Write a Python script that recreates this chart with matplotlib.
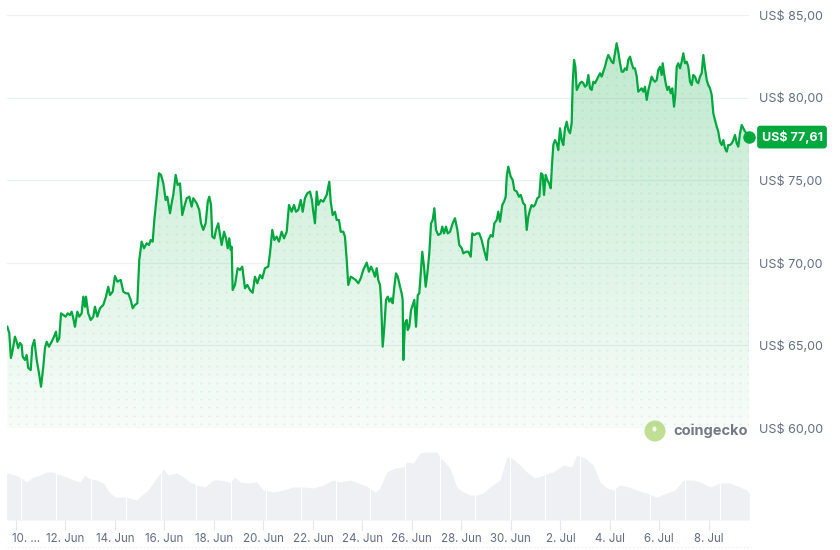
import datetime as dt
import numpy as np
import matplotlib
matplotlib.use("Agg")
import matplotlib.pyplot as plt
import matplotlib.transforms as mtransforms
from matplotlib.patches import Ellipse

plt.rcParams['font.family'] = ['Inter', 'DejaVu Sans']

# hours after 10 Jun 00:00 and price in US$
hours = [-8.4, -6.5, -4.9, -3.2, -1.0, 0.7, 2.2, 3.9, 5.5, 6.5, 8.7, 10.4, 11.9, 14.3, 15.8, 17.8, 20.1, 22.3,
         24.3, 26.5, 28.1, 29.8, 32.0, 34.6, 36.9, 38.8, 40.1, 42.0, 43.7, 45.9, 48.2, 50.1, 52.4, 54.0, 55.6,
         57.2, 59.5, 61.4, 63.7, 65.3, 66.9, 67.9, 70.1, 72.5, 75.0, 76.6, 78.9, 81.5, 84.7, 87.3, 89.5, 91.2,
         93.8, 96.0, 98.3, 101.6, 104.1, 106.7, 108.9, 111.3, 113.2, 115.4, 117.7, 119.6, 121.9, 124.2, 126.8,
         129.0, 130.7, 132.6, 134.2, 136.5, 138.7, 140.7, 142.9, 145.2, 146.8, 149.4, 151.0, 152.6, 154.9,
         156.8, 159.1, 161.3, 163.3, 165.6, 168.1, 170.4, 172.0, 175.3, 177.8, 179.5, 181.7, 184.0, 186.0,
         187.5, 189.2, 190.4, 192.4, 194.0, 196.2, 197.9, 199.5, 201.8, 203.7, 205.4, 206.9, 208.3, 209.2,
         210.2, 212.4, 215.0, 217.3, 219.5, 222.1, 224.4, 227.0, 229.6, 231.8, 234.1, 236.7, 238.9, 241.5,
         244.7, 246.4, 248.6, 250.6, 252.9, 255.1, 257.7, 260.0, 262.6, 264.8, 267.4, 269.7, 271.6, 273.8,
         276.2, 278.1, 280.3, 282.6, 285.2, 287.1, 288.4, 290.0, 291.7, 293.2, 295.6, 298.1, 299.7, 301.4,
         303.9, 305.3, 307.2, 309.4, 311.1, 313.3, 315.0, 317.5, 319.1, 320.8, 322.3, 324.7, 327.2, 329.5,
         332.0, 334.4, 336.9, 340.2, 342.4, 344.4, 346.6, 348.2, 349.9, 351.4, 353.1, 354.1, 355.7, 357.3,
         358.9, 360.6, 362.1, 363.8, 365.4, 367.0, 368.6, 370.3, 372.5, 374.1, 375.1, 375.7, 377.3, 379.0,
         380.0, 381.5, 383.2, 384.8, 386.4, 388.0, 389.7, 391.2, 392.6, 394.1, 395.8, 397.4, 399.0, 400.9,
         402.6, 404.2, 405.8, 407.4, 409.6, 412.0, 413.5, 415.2, 417.1, 418.8, 421.0, 423.6, 425.8, 428.1,
         430.0, 432.4, 433.9, 436.5, 438.8, 441.1, 442.6, 444.6, 446.9, 449.4, 451.7, 454.0, 456.6, 458.2,
         460.5, 462.4, 464.0, 466.3, 467.8, 469.5, 471.7, 473.4, 475.0, 476.0, 477.5, 479.9, 481.8, 483.4,
         485.7, 487.9, 489.6, 492.1, 493.7, 495.4, 496.9, 498.6, 500.2, 501.8, 503.4, 505.7, 507.6, 509.3,
         510.9, 512.2, 513.8, 515.4, 517.0, 518.7, 519.9, 521.2, 522.8, 524.5, 526.0, 527.7, 529.3, 530.9,
         532.5, 534.2, 535.7, 537.4, 539.0, 540.0, 541.3, 542.6, 543.9, 545.5, 547.1, 548.8, 550.3, 552.0,
         553.6, 555.2, 556.8, 558.4, 560.0, 561.6, 563.3, 564.8, 566.5, 568.1, 569.7, 571.3, 572.9, 574.5,
         576.2, 577.8, 579.4, 581.0, 582.6, 584.2, 585.9, 587.5, 589.1, 590.7, 592.4, 593.9, 595.6, 597.2,
         598.8, 600.4, 602.1, 603.6, 605.3, 606.9, 608.5, 610.1, 611.8, 613.4, 615.0, 616.6, 618.2, 619.8,
         621.5, 623.0, 624.7, 626.3, 627.3, 628.6, 630.2, 631.8, 633.4, 635.1, 636.6, 638.3, 639.5, 640.9,
         642.4, 644.1, 645.7, 647.3, 648.9, 650.6, 652.1, 653.8, 655.4, 657.0, 658.6, 660.3, 661.8, 663.5,
         665.1, 666.7, 668.3, 670.0, 671.5, 673.2, 674.8, 676.4, 678.0, 679.7, 681.2, 682.9, 684.5, 686.1,
         687.7, 689.4, 690.9, 692.6, 694.2, 695.8, 697.4, 699.1, 700.6, 702.3, 703.9, 705.5, 707.2, 708.8,
         711.0]
prices = [66.13, 65.75, 64.24, 64.72, 65.53, 65.22, 64.84, 65.15, 65.03, 64.32, 64.12, 64.42, 63.63, 63.51,
          64.92, 65.33, 64.12, 63.33, 62.50, 63.71, 64.84, 65.22, 64.92, 65.22, 65.53, 65.83, 65.22, 65.43,
          66.94, 66.84, 66.74, 66.94, 66.84, 67.04, 66.64, 66.13, 67.04, 66.74, 66.94, 67.95, 67.34, 67.95,
          66.94, 66.54, 66.74, 67.34, 66.74, 67.25, 67.45, 67.95, 68.55, 68.05, 68.25, 69.20, 68.86, 68.96,
          68.25, 68.15, 68.15, 67.75, 67.25, 67.45, 67.55, 70.17, 71.28, 70.88, 71.18, 71.08, 71.38, 71.28,
          72.59, 74.00, 75.42, 75.32, 74.81, 73.80, 74.00, 73.00, 73.60, 74.11, 75.32, 74.71, 74.81, 72.89,
          73.40, 73.91, 74.00, 73.40, 73.91, 73.60, 73.20, 72.39, 71.99, 72.39, 73.70, 74.00, 73.50, 71.58,
          71.48, 71.99, 72.39, 71.68, 71.08, 71.88, 71.48, 70.88, 71.48, 70.78, 70.97, 68.35, 68.66, 69.67,
          69.57, 69.77, 68.46, 68.66, 68.35, 68.19, 69.16, 68.76, 69.26, 69.06, 69.67, 69.77, 70.58, 71.99,
          71.38, 71.58, 71.28, 71.88, 71.48, 71.88, 73.50, 73.09, 73.50, 73.09, 73.20, 73.80, 73.09, 73.91,
          74.21, 74.31, 73.80, 73.09, 72.39, 74.31, 73.50, 73.80, 73.70, 73.91, 74.11, 74.91, 73.70, 72.89,
          73.09, 72.59, 72.59, 71.88, 71.88, 71.58, 70.17, 68.66, 69.16, 69.06, 68.96, 68.76, 69.06, 69.57,
          70.01, 69.46, 69.77, 69.46, 69.16, 69.67, 68.96, 68.66, 67.75, 64.92, 66.13, 67.75, 67.95, 67.65,
          67.85, 67.55, 68.55, 69.36, 69.16, 68.55, 68.15, 67.75, 64.12, 66.34, 66.54, 65.93, 66.13, 67.14,
          67.45, 67.75, 66.13, 68.05, 68.15, 69.36, 70.67, 69.76, 68.55, 69.36, 70.57, 72.39, 72.59, 73.30,
          71.99, 71.68, 71.78, 72.19, 71.78, 72.19, 71.78, 71.88, 72.39, 72.70, 71.99, 71.08, 70.88, 70.57,
          70.67, 70.67, 70.37, 71.78, 71.68, 71.78, 71.78, 71.38, 70.77, 70.17, 71.38, 71.68, 71.58, 72.39,
          72.59, 73.09, 72.49, 73.50, 73.70, 74.00, 75.21, 75.82, 75.21, 75.01, 74.41, 74.31, 74.00, 74.11,
          73.60, 73.50, 71.99, 72.79, 73.20, 73.50, 73.40, 73.50, 73.91, 74.00, 75.42, 75.32, 74.11, 75.32,
          75.01, 74.81, 74.51, 75.92, 77.13, 77.43, 77.23, 76.83, 78.14, 77.43, 77.13, 78.14, 78.54, 78.04,
          77.84, 78.45, 80.87, 82.28, 81.87, 80.46, 80.66, 80.87, 80.96, 80.87, 80.66, 80.76, 81.37, 80.56,
          80.46, 80.96, 80.87, 81.07, 81.27, 81.47, 81.27, 81.57, 81.87, 82.28, 82.58, 82.38, 82.17, 82.08,
          82.68, 83.29, 82.78, 82.08, 81.57, 81.57, 81.77, 81.67, 82.28, 82.48, 82.08, 81.77, 81.77, 81.27,
          80.36, 80.46, 80.56, 80.36, 80.66, 79.86, 80.46, 80.87, 81.27, 81.07, 80.96, 81.07, 81.67, 81.87,
          81.37, 82.08, 81.47, 80.87, 80.46, 80.66, 80.26, 80.56, 79.45, 80.16, 81.87, 82.08, 81.77, 82.17,
          82.68, 82.08, 82.17, 81.87, 80.96, 80.76, 81.37, 81.27, 80.96, 80.87, 81.27, 81.47, 82.58, 81.77,
          81.07, 80.76, 80.56, 80.16, 79.05, 78.64, 78.24, 77.94, 77.33, 77.13, 77.43, 76.93, 76.73, 77.13,
          77.13, 77.23, 77.43, 77.74, 77.23, 77.03, 77.84, 78.34, 78.14, 77.94, 77.84, 77.61]

# volume (relative units)
vol_hours = [-9, -1, 5.5, 10.4, 16.5, 23.3, 29.8, 36.2, 42.7, 49.2, 55.6, 62.1, 67, 70.1, 78.3, 84.7, 91.2,
             96, 104.1, 110.6, 117.1, 121.9, 128.3, 134.8, 142.9, 147.7, 155.9, 162.3, 168.8, 175.3, 183.3,
             191.4, 197.9, 207.6, 212.4, 217.3, 225.3, 233.5, 239.9, 249.6, 259.3, 269, 278.7, 288.4, 298.1,
             307.8, 314.3, 324, 332, 340.2, 348.2, 353.1, 359.6, 367.6, 375.7, 379, 385.4, 391.9, 398.4,
             408.1, 411.3, 421, 427.5, 433.9, 440.4, 446.9, 453.3, 459.8, 469.5, 476, 480.8, 488.9, 495.4,
             503.4, 511.5, 521.2, 530.9, 539, 543.9, 551.9, 560, 566.5, 573, 579.4, 585.9, 593.9, 602.1,
             611.8, 621.5, 631.2, 639.2, 647.3, 657, 663.5, 673.2, 682.9, 692.6, 702.3, 708.8, 711.3]
volumes = [47, 45, 42, 38, 43, 45, 48, 48, 45, 43, 40, 38, 45, 42, 40, 37, 27, 23, 23, 22, 20, 25, 30, 40,
           51, 45, 47, 43, 38, 35, 33, 40, 40, 38, 43, 38, 37, 38, 30, 28, 30, 33, 33, 32, 35, 40, 38, 40,
           37, 34, 28, 32, 48, 52, 53, 58, 57, 67, 68, 68, 63, 52, 33, 28, 25, 25, 27, 33, 40, 63, 62, 55,
           48, 42, 45, 48, 55, 53, 65, 62, 55, 38, 32, 30, 35, 33, 30, 27, 23, 27, 30, 40, 40, 38, 33, 37,
           37, 33, 30, 27]

price_ticks = [60, 65, 70, 75, 80, 85]
date_ticks = list(range(0, 673, 48))
start_day = dt.datetime(2024, 6, 10)

green = '#00a83e'
gray_txt = '#616e85'
grid_c = '#eef0f3'

W, H = 840, 550
fig = plt.figure(figsize=(8.4, 5.5), dpi=100)
x0, x1 = 7, 749
ax = fig.add_axes([x0 / W, (H - 428) / H, (x1 - x0) / W, 413 / H])
axv = fig.add_axes([x0 / W, (H - 520) / H, (x1 - x0) / W, 80 / H])
xlim = (-8.7, 711.0)

# price
ax.set_xlim(*xlim)
ax.set_ylim(60, 85)
fill = ax.fill_between(hours, prices, 60, color='none', lw=0)
clip = fill.get_paths()[0]
grad = np.linspace(0.03, 0.27, 256).reshape(-1, 1)
rgba = np.zeros((256, 1, 4))
rgba[..., 1] = 168 / 255
rgba[..., 2] = 62 / 255
rgba[..., 3] = grad
im = ax.imshow(rgba, extent=[xlim[0], xlim[1], 60, 85], origin='lower', aspect='auto', zorder=1)
im.set_clip_path(clip, ax.transData)

gx, gy = np.meshgrid(np.arange(-6, 712, 8.05), np.arange(60.25, 85, 0.5))
dots = ax.scatter(gx.ravel(), gy.ravel(), s=2.2, color=green, alpha=0.10, lw=0, zorder=1.5)
dots.set_clip_path(clip, ax.transData)

ax.plot(hours, prices, color=green, lw=1.6, zorder=3, solid_joinstyle='round')
ax.plot(hours[-1], prices[-1], 'o', color=green, ms=8, clip_on=False, zorder=4)

ax.set_yticks(price_ticks)
ax.set_yticklabels(['US$ ' + f'{v:.2f}'.replace('.', ',') for v in price_ticks])
ax.yaxis.tick_right()
ax.tick_params(axis='y', length=0, pad=7, labelsize=9, labelcolor=gray_txt)
ax.set_xticks([])
ax.grid(axis='y', color=grid_c, lw=0.9)
ax.set_axisbelow(True)
for s in ax.spines.values():
    s.set_visible(False)
ax.patch.set_alpha(0)

ax.annotate('US$ ' + f'{prices[-1]:.2f}'.replace('.', ','), xy=(1, prices[-1]),
            xycoords=('axes fraction', 'data'), xytext=(9, 0), textcoords='offset points',
            ha='left', va='center', fontsize=9, fontweight='bold', color='white',
            bbox=dict(boxstyle='round,pad=0.35,rounding_size=0.25', fc=green, ec='none'),
            annotation_clip=False)

# volume
axv.set_xlim(*xlim)
axv.set_ylim(0, 80)
axv.fill_between(vol_hours, volumes, 0, color='#eef0f3', lw=0)
axv.vlines(np.arange(4.85, 711, 33.9), 0, 80, color='white', lw=0.8)
axv.set_yticks([])
axv.set_xticks(date_ticks)
labels = []
for h in date_ticks:
    d = start_day + dt.timedelta(hours=h)
    labels.append(f'{d.day}. {d.strftime("%b")}')
labels[0] = '10. ...'
axv.set_xticklabels(labels)
axv.tick_params(axis='x', length=7, color='#e3e6ea', width=0.8, pad=2, labelsize=8.3, labelcolor=gray_txt)
first = axv.get_xticklabels()[0]
first.set_ha('left')
first.set_transform(first.get_transform() + mtransforms.ScaledTranslation(-4 / 100, 0, fig.dpi_scale_trans))
for s in axv.spines.values():
    s.set_visible(False)
axv.patch.set_alpha(0)

# bottom line
fig.add_artist(plt.Line2D([x0 / W, x1 / W], [3 / H, 3 / H], color=grid_c, lw=1, ls=':'))

# coingecko mark
cx, cy = 655 / W, (H - 431) / H
logo = Ellipse((cx, cy), 21 / W, 21 / H, transform=fig.transFigure, fc='#8dc63f', ec='none', alpha=0.55)
fig.add_artist(logo)
eye = Ellipse((cx - 0.5 / W, cy + 2 / H), 4 / W, 5 / H, transform=fig.transFigure, fc='white', ec='none', alpha=0.9)
fig.add_artist(eye)
fig.text(673 / W, cy, 'coingecko', ha='left', va='center', fontsize=10.5, fontweight='bold',
         color='#5b6271', alpha=0.85)

fig.savefig('out.png', dpi=100)
